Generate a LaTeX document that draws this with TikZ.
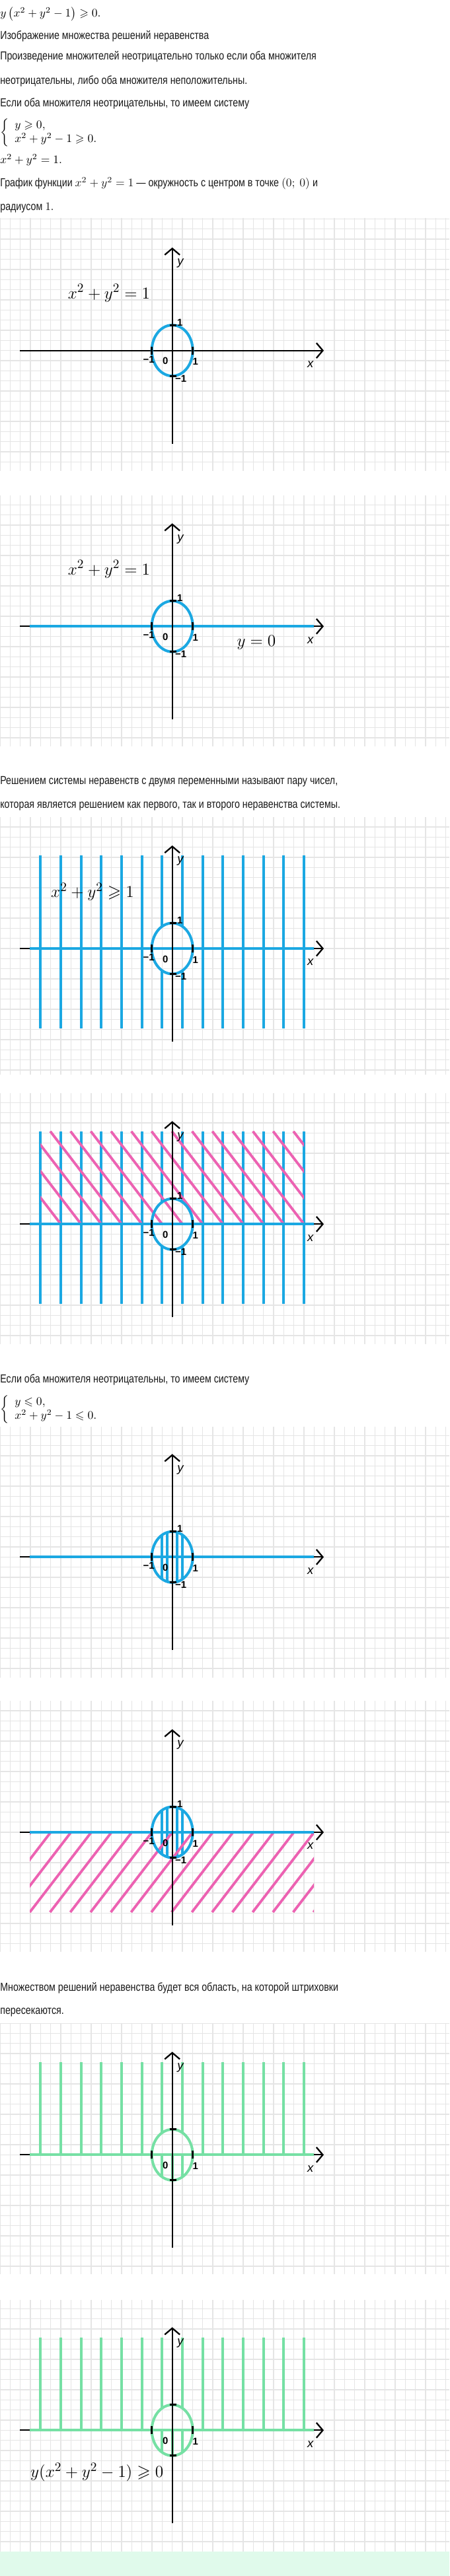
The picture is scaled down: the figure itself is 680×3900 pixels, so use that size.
\documentclass[tikz,border=0pt]{standalone}
\usepackage{amsmath,amssymb}
\usepackage{fontspec}
\setsansfont{Liberation Sans}
\newfontfamily\bodyfont[FakeStretch=0.81]{Liberation Sans}
\usetikzlibrary{arrows.meta}

\definecolor{gdzblue}{RGB}{27,168,226}
\definecolor{gdzpink}{RGB}{236,98,178}
\definecolor{gdzgreen}{RGB}{118,224,164}
\definecolor{gdzband}{RGB}{224,250,235}

\tikzset{
  gridline/.style={draw=black!10, line width=0.8pt},
  axisline/.style={black, line width=1.3pt},
  axisarrow/.style={axisline, -{Straight Barb[length=5.5pt,width=13pt]}},
  tickmark/.style={black, line width=1.7pt},
  bluecurve/.style={draw=gdzblue, line width=2.3pt},
  pinkhatch/.style={draw=gdzpink, line width=2.2pt},
  greencurve/.style={draw=gdzgreen, line width=2.3pt},
  ticklabel/.style={font=\sffamily\bfseries\fontsize{8.5}{10}\selectfont, inner sep=0},
  axislabel/.style={font=\sffamily\itshape\fontsize{10.5}{12}\selectfont, inner sep=0},
  bodytext/.style={anchor=west, inner sep=0, text=black!90,
    font=\bodyfont\fontsize{10}{12}\selectfont},
  mathtext/.style={anchor=west, inner sep=0, font=\fontsize{10}{12}\selectfont},
  bigformula/.style={inner sep=0, font=\fontsize{15}{18}\selectfont},
}

% squared paper behind one panel: top, bottom, origin
\newcommand{\paperGrid}[3]{%
  \begin{scope}
    \clip (0,#1) rectangle (680,#2);
    \foreach \k in {-17,...,27}
      \draw[gridline] (260.7+\k*15.33,#1) -- (260.7+\k*15.33,#2);
    \foreach \k in {-14,...,14}
      \draw[gridline] (0,#3+\k*15.33) -- (680,#3+\k*15.33);
  \end{scope}}
\newcommand{\xAxis}{\draw[axisarrow] (-230.7,0) -- (229.3,0);}
\newcommand{\yAxisTicks}[1]{%
  \draw[axisarrow] (0,-141) -- (0,156);
  \draw[tickmark] (-31,-6) -- (-31,6) (31,-6) -- (31,6)
                  (-4,38.5) -- (6,38.5) (-4,-38.5) -- (6,-38.5);
  \node[ticklabel] (#1-zero) at (-10.5,-16) {0};
  \node[ticklabel] (#1-one) at (35,-17) {1};
  \node[axislabel] (#1-ylab) at (12.3,132) {y};
  \node[axislabel] (#1-xlab) at (209,-21) {x};}
\newcommand{\minusLabels}[1]{%
  \node[ticklabel] (#1-top) at (11.5,42.5) {1};
  \node[ticklabel] (#1-left) at (-35.5,-13.5) {−1};
  \node[ticklabel] (#1-bottom) at (13,-42.5) {−1};}

\begin{document}
\begin{tikzpicture}[x=0.02cm,y=-0.02cm]
  \useasboundingbox (0,0) rectangle (680,3900);

  % text at the top
  \node[mathtext] (t-ineq) at (0,21) {$y\left(x^2+y^2-1\right)\geqslant 0.$};
  \node[bodytext] (t-image) at (0,55) {Изображение множества решений неравенства};
  \node[bodytext] (t-prod1) at (0,86) {Произведение множителей неотрицательно только если оба множителя};
  \node[bodytext] (t-prod2) at (0,123) {неотрицательны, либо оба множителя неположительны.};
  \node[bodytext] (t-case1) at (0,157) {Если оба множителя неотрицательны, то имеем систему};
  \node[mathtext] (t-sys1) at (0,201)
    {$\left\{\begin{array}{l} y\geqslant 0,\\ x^2+y^2-1\geqslant 0.\end{array}\right.$};
  \node[mathtext] (t-circ) at (0,242) {$x^2+y^2=1.$};
  \node[bodytext] (t-graph1) at (0,278)
    {График функции $x^2+y^2=1$ — окружность с центром в точке $(0;\ 0)$ и};
  \node[bodytext] (t-graph2) at (0,315) {радиусом $1$.};

  % panel 1: the circle
  \paperGrid{330}{713}{530.7}
  \begin{scope}[shift={(260.7,530.7)},yscale=-1]
    \xAxis
    \draw[bluecurve] (0,0) ellipse [x radius=31, y radius=38.5];
    \yAxisTicks{p1}
    \minusLabels{p1}
    \node[bigformula] (p1-eq) at (-95.7,87) {$x^2+y^2=1$};
  \end{scope}

  % panel 2: circle and y = 0
  \paperGrid{750}{1130}{948.3}
  \begin{scope}[shift={(260.7,948.3)},yscale=-1]
    \xAxis
    \draw[bluecurve] (-215.7,0) -- (214.3,0);
    \draw[bluecurve] (0,0) ellipse [x radius=31, y radius=38.5];
    \yAxisTicks{p2}
    \minusLabels{p2}
    \node[bigformula] (p2-eq) at (-95.7,86.6) {$x^2+y^2=1$};
    \node[bigformula] (p2-line) at (127.3,-24.7) {$y=0$};
  \end{scope}

  \node[bodytext] (t-def1) at (0,1183) {Решением системы неравенств с двумя переменными называют пару чисел,};
  \node[bodytext] (t-def2) at (0,1220.7) {которая является решением как первого, так и второго неравенства системы.};

  % panel 3: outside the circle
  \paperGrid{1237}{1627}{1436}
  \begin{scope}[shift={(260.7,1436)},yscale=-1]
    \xAxis
    \begin{scope}[even odd rule]
      \clip (-230,-125) rectangle (230,145)
            (0,0) ellipse [x radius=31, y radius=38.5];
      \foreach \k in {-7,...,6}
        \draw[bluecurve] ({(2*\k+1)*15.33},-121) -- ({(2*\k+1)*15.33},140.6);
    \end{scope}
    \draw[bluecurve] (-215.7,0) -- (214.3,0);
    \draw[bluecurve] (0,0) ellipse [x radius=31, y radius=38.5];
    \yAxisTicks{p3}
    \minusLabels{p3}
    \node[bigformula] (p3-eq) at (-120.7,86) {$x^2+y^2\geqslant 1$};
  \end{scope}

  % panel 4: both hatchings
  \paperGrid{1655}{2035}{1853.3}
  \begin{scope}[shift={(260.7,1853.3)},yscale=-1]
    \xAxis
    \begin{scope}[even odd rule]
      \clip (-230,-125) rectangle (230,145)
            (0,0) ellipse [x radius=31, y radius=38.5];
      \foreach \k in {-7,...,6}
        \draw[bluecurve] ({(2*\k+1)*15.33},-121) -- ({(2*\k+1)*15.33},140.6);
    \end{scope}
    \begin{scope}
      \clip (-199.3,0) rectangle (199.3,140.6);
      \foreach \k in {-8,...,10}
        \draw[pinkhatch] ({(2*\k+1)*15.33},0) -- ++(-108,140.6);
    \end{scope}
    \draw[bluecurve] (-215.7,0) -- (214.3,0);
    \draw[bluecurve] (0,0) ellipse [x radius=31, y radius=38.5];
    \yAxisTicks{p4}
    \minusLabels{p4}
  \end{scope}

  \node[bodytext] (t-case2) at (0,2089.3) {Если оба множителя неотрицательны, то имеем систему};
  \node[mathtext] (t-sys2) at (0,2134)
    {$\left\{\begin{array}{l} y\leqslant 0,\\ x^2+y^2-1\leqslant 0.\end{array}\right.$};

  % panel 5: inside the circle
  \paperGrid{2160}{2540}{2357.3}
  \begin{scope}[shift={(260.7,2357.3)},yscale=-1]
    \xAxis
    \begin{scope}
      \clip (0,0) ellipse [x radius=31, y radius=38.5];
      \foreach \u in {-15.33,-7.67,7.67,15.33}
        \draw[bluecurve] (\u,-40) -- (\u,40);
    \end{scope}
    \draw[bluecurve] (-215.7,0) -- (214.3,0);
    \draw[bluecurve] (0,0) ellipse [x radius=31, y radius=38.5];
    \yAxisTicks{p5}
    \minusLabels{p5}
  \end{scope}

  % panel 6: inside the circle and below the axis
  \paperGrid{2575}{2955}{2774}
  \begin{scope}[shift={(260.7,2774)},yscale=-1]
    \xAxis
    \begin{scope}
      \clip (0,0) ellipse [x radius=31, y radius=38.5];
      \foreach \u in {-15.33,-7.67,7.67,15.33}
        \draw[bluecurve] (\u,-40) -- (\u,40);
    \end{scope}
    \begin{scope}
      \clip (-215.7,-121) rectangle (214.3,0);
      \foreach \k in {-7,...,10}
        \draw[pinkhatch] ({2*\k*15.33},0) -- ++(-93,-121);
    \end{scope}
    \draw[bluecurve] (-215.7,0) -- (214.3,0);
    \draw[bluecurve] (0,0) ellipse [x radius=31, y radius=38.5];
    \yAxisTicks{p6}
    \minusLabels{p6}
  \end{scope}

  \node[bodytext] (t-res1) at (0,3010) {Множеством решений неравенства будет вся область, на которой штриховки};
  \node[bodytext] (t-res2) at (0,3046.7) {пересекаются.};

  % panel 7: the answer
  \paperGrid{3063}{3443}{3262.3}
  \begin{scope}[shift={(260.7,3262.3)},yscale=-1]
    \xAxis
    \begin{scope}[even odd rule]
      \clip (-230,0) rectangle (230,145)
            (0,0) ellipse [x radius=31, y radius=38.5];
      \foreach \k in {-7,...,6}
        \draw[greencurve] ({(2*\k+1)*15.33},0) -- ({(2*\k+1)*15.33},140.6);
    \end{scope}
    \begin{scope}
      \clip (0,0) ellipse [x radius=31, y radius=38.5];
      \foreach \u in {-15.33,0,15.33}
        \draw[greencurve] (\u,-40) -- (\u,0);
    \end{scope}
    \draw[greencurve] (-215.7,0) -- (214.3,0);
    \draw[greencurve] (0,0) ellipse [x radius=31, y radius=38.5];
    \yAxisTicks{p7}
  \end{scope}

  % panel 8: the answer with its inequality
  \paperGrid{3482}{3863}{3679.3}
  \begin{scope}[shift={(260.7,3679.3)},yscale=-1]
    \xAxis
    \begin{scope}[even odd rule]
      \clip (-230,0) rectangle (230,145)
            (0,0) ellipse [x radius=31, y radius=38.5];
      \foreach \k in {-7,...,6}
        \draw[greencurve] ({(2*\k+1)*15.33},0) -- ({(2*\k+1)*15.33},140.6);
    \end{scope}
    \begin{scope}
      \clip (0,0) ellipse [x radius=31, y radius=38.5];
      \foreach \u in {-15.33,0,15.33}
        \draw[greencurve] (\u,-40) -- (\u,0);
    \end{scope}
    \draw[greencurve] (-215.7,0) -- (214.3,0);
    \draw[greencurve] (0,0) ellipse [x radius=31, y radius=38.5];
    \yAxisTicks{p8}
    \node[bigformula] (p8-eq) at (-114,-64) {$y(x^2+y^2-1)\geqslant 0$};
  \end{scope}
  \fill[gdzband] (0,3863) rectangle (680,3900);
\end{tikzpicture}
\end{document}
